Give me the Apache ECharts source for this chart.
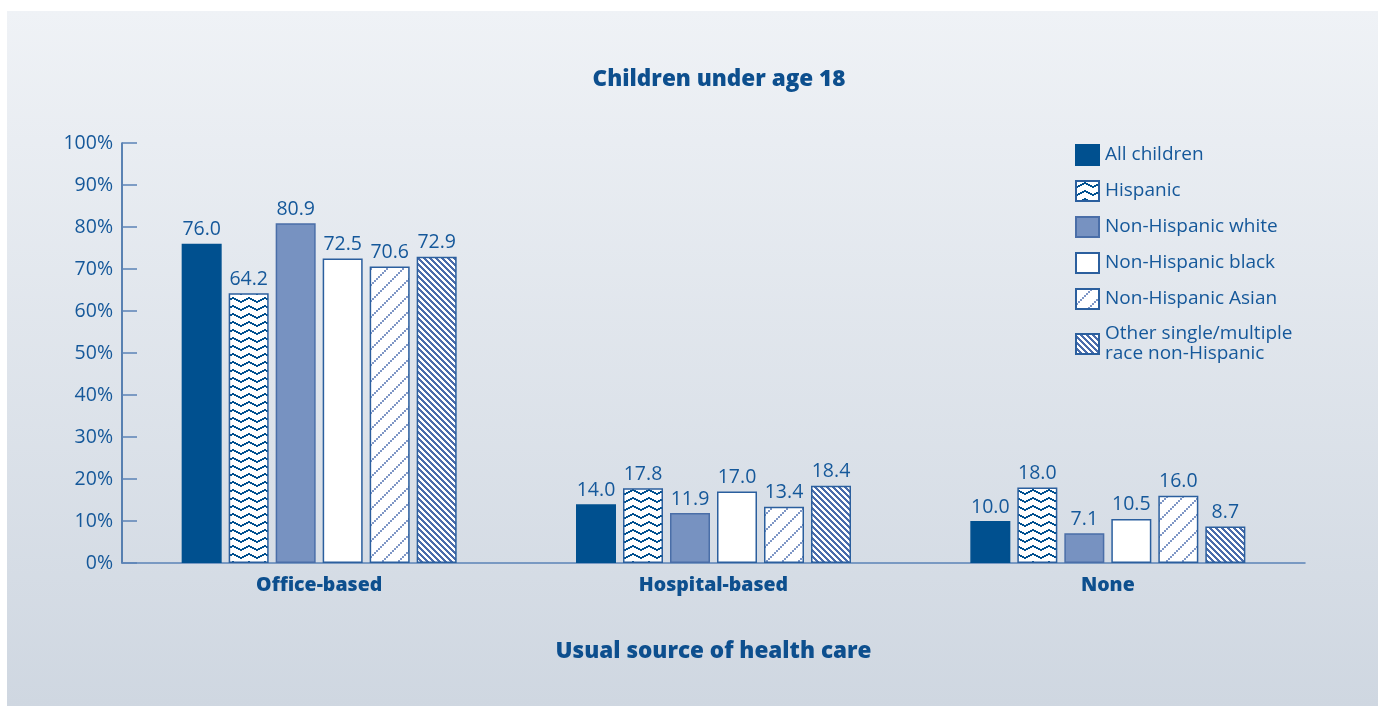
<!DOCTYPE html>
<html>
<head>
<meta charset="utf-8">
<script src="https://cdn.jsdelivr.net/npm/echarts@6/dist/echarts.min.js"></script>
<style>
  html, body { margin: 0; padding: 0; background: #ffffff; }
  #chart { width: 1378px; height: 706px; }
</style>
</head>
<body>
<div id="chart"></div>
<script>
// Usual source of health care, children under age 18 (percent)
const categories = ['Office-based', 'Hospital-based', 'None'];
const groupNames = [
  'All children',
  'Hispanic',
  'Non-Hispanic white',
  'Non-Hispanic black',
  'Non-Hispanic Asian',
  'Other single/multiple\nrace non-Hispanic'
];
const allChildren = [76.0, 14.0, 10.0];
const hispanic = [64.2, 17.8, 18.0];
const nhWhite = [80.9, 11.9, 7.1];
const nhBlack = [72.5, 17.0, 10.5];
const nhAsian = [70.6, 13.4, 16.0];
const otherRace = [72.9, 18.4, 8.7];
const yTicks = [0, 10, 20, 30, 40, 50, 60, 70, 80, 90, 100];

const NAVY = '#00508f';
const TEXT = '#15589a';
const EDGE = '#2b5f9e';
const FONT = '"Open Sans", "Liberation Sans", sans-serif';

function tile(w, h, draw) {
  const c = document.createElement('canvas');
  c.width = w; c.height = h;
  const g = c.getContext('2d');
  g.imageSmoothingEnabled = false;
  draw(g, w, h);
  return { image: c, repeat: 'repeat' };
}

// white with navy zigzag rows
const zigzag = tile(16, 8, (g, w, h) => {
  g.fillStyle = '#ffffff'; g.fillRect(0, 0, w, h);
  g.fillStyle = NAVY;
  const ys = [5, 4, 3, 2, 1, 2, 3, 4];
  for (let k = 0; k < ys.length; k++) {
    g.fillRect(k * 2, ys[k], 2, 2);
  }
});

// white with light-blue dotted "/" diagonals
const slashDots = tile(16, 16, (g, w, h) => {
  g.fillStyle = '#ffffff'; g.fillRect(0, 0, w, h);
  g.fillStyle = '#7f97c6';
  for (let i = 0; i < w; i += 2) {
    g.fillRect(i, h - 2 - i, 2, 2);
  }
});

// medium blue with white "\" stripes
const backStripes = tile(6, 6, (g, w, h) => {
  g.fillStyle = '#4a6cab'; g.fillRect(0, 0, w, h);
  g.fillStyle = '#ffffff';
  for (let i = 0; i < w; i++) {
    g.fillRect(i, i, 1, 1);
    g.fillRect((i + 1) % w, i, 1, 1);
    g.fillRect((i + 2) % w, i, 1, 1);
  }
});

const fills = [NAVY, zigzag, '#7792c1', '#ffffff', slashDots, backStripes];
const borders = [NAVY, EDGE, '#4a6ea8', EDGE, EDGE, EDGE];
const values = [allChildren, hispanic, nhWhite, nhBlack, nhAsian, otherRace];

const chart = echarts.init(document.getElementById('chart'), null, { renderer: 'canvas' });

const series = groupNames.map((name, i) => ({
  name: name,
  type: 'bar',
  data: values[i],
  barWidth: 40,
  barGap: '17.5%',
  itemStyle: {
    color: fills[i],
    borderColor: borders[i],
    borderWidth: 1.5
  },
  label: {
    show: true,
    position: 'top',
    distance: 4,
    color: TEXT,
    fontFamily: FONT,
    fontSize: 19.5,
    formatter: p => p.value.toFixed(1)
  },
  emphasis: { disabled: true }
}));

chart.setOption({
  backgroundColor: '#ffffff',
  animation: false,
  graphic: [{
    type: 'rect',
    z: -10,
    silent: true,
    shape: { x: 7, y: 11, width: 1371, height: 695 },
    style: {
      fill: new echarts.graphic.LinearGradient(0, 0, 0, 1, [
        { offset: 0, color: '#eff2f6' },
        { offset: 1, color: '#cfd7e1' }
      ])
    }
  }],
  title: {
    text: 'Children under age 18',
    left: 714,
    textAlign: 'center',
    top: 63,
    textStyle: { color: '#0d4f8e', fontFamily: FONT, fontWeight: 800, fontSize: 22.5 }
  },
  legend: {
    orient: 'vertical',
    left: 1075,
    top: 144,
    padding: 0,
    itemWidth: 23,
    itemHeight: 20,
    itemGap: 14,
    icon: 'rect',
    selectedMode: false,
    textStyle: { color: TEXT, fontFamily: FONT, fontSize: 19, lineHeight: 20, padding: [0, 0, 0, 1] },
    data: groupNames
  },
  grid: { left: 122, right: 73, top: 143, bottom: 143, containLabel: false },
  xAxis: {
    type: 'category',
    data: categories,
    name: 'Usual source of health care',
    nameLocation: 'middle',
    nameGap: 77,
    nameTextStyle: { color: '#0d4f8e', fontFamily: FONT, fontWeight: 800, fontSize: 22.5 },
    axisLine: { lineStyle: { color: '#5b83b6', width: 1.5 } },
    axisTick: { show: false },
    axisLabel: { color: '#0d4f8e', fontFamily: FONT, fontWeight: 800, fontSize: 19.5, margin: 12 }
  },
  yAxis: {
    type: 'value',
    min: 0,
    max: 100,
    interval: 10,
    axisLine: { show: true, lineStyle: { color: EDGE, width: 1.5 } },
    axisTick: { show: true, inside: true, length: 15, lineStyle: { color: '#5b83b6', width: 1.5 } },
    splitLine: { show: false },
    axisLabel: {
      color: TEXT, fontFamily: FONT, fontSize: 19.5, margin: 9,
      formatter: v => (yTicks.includes(v) ? v + '%' : '')
    }
  },
  series: series
});
</script>
</body>
</html>
